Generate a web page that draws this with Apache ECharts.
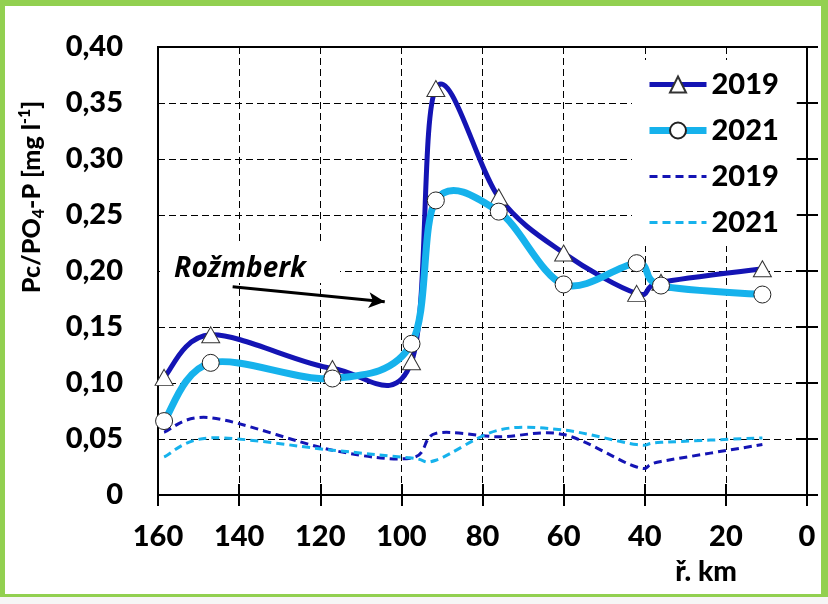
<!DOCTYPE html>
<html>
<head>
<meta charset="utf-8">
<script src="https://cdn.jsdelivr.net/npm/echarts@6/dist/echarts.min.js"></script>
<style>
html,body{margin:0;padding:0;background:#fff;}
#wrap{position:relative;width:828px;height:604px;background:#92d050;overflow:hidden;}
#inner{position:absolute;left:5px;top:6px;width:816px;height:588px;background:#fff;}
#foot{position:absolute;left:0;top:597px;width:828px;height:7px;background:#f6f6f6;}
#chart{position:absolute;left:0;top:0;width:828px;height:604px;}
</style>
</head>
<body>
<div id="wrap"><div id="inner"></div><div id="foot"></div><div id="chart"></div></div>
<script>
// river km (x) and values
const km      = [158.5, 147, 117, 97.5, 91.5, 76, 60, 42, 36, 11];
const pc2019  = [0.105, 0.143, 0.113, 0.119, 0.363, 0.266, 0.216, 0.180, 0.190, 0.202];
const pc2021  = [0.066, 0.118, 0.104, 0.135, 0.263, 0.253, 0.188, 0.207, 0.187, 0.179];
const po2019  = [0.056, 0.069, 0.040, 0.033, 0.055, 0.052, 0.054, 0.025, 0.030, 0.045];
const po2021  = [0.034, 0.051, 0.040, 0.033, 0.031, 0.058, 0.058, 0.045, 0.047, 0.051];
const legendNames = ['2019', '2021', '2019 ', '2021 '];
// annotation arrow (km, value)
const arrowFrom = [141.6, 0.186];
const arrowTo   = [104.1, 0.1726];
const annotationText = 'Rožmberk';

const FONT = 'Lato';
const WEIGHT = 900;
const DARK = '#1414b4';
const LIGHT = '#16b2ec';

function pairs(xs, ys){ return xs.map((x,i)=>[x, ys[i]]); }

// Excel-like smoothed curve (Catmull-Rom -> cubic Bezier) through the data, mapped by the axes
function curve(values, color, width, dash){
  return function(params, api){
    if (params.dataIndex !== 0) return null;
    const p = km.map((x,i)=>api.coord([x, values[i]]));
    const n = p.length;
    let d = 'M' + p[0][0] + ',' + p[0][1];
    for (let i = 0; i < n - 1; i++){
      const p0 = p[i-1] || p[i], p1 = p[i], p2 = p[i+1], p3 = p[i+2] || p[i+1];
      const c1x = p1[0] + (p2[0]-p0[0])/6, c1y = p1[1] + (p2[1]-p0[1])/6;
      const c2x = p2[0] - (p3[0]-p1[0])/6, c2y = p2[1] - (p3[1]-p1[1])/6;
      d += ' C' + c1x + ',' + c1y + ' ' + c2x + ',' + c2y + ' ' + p2[0] + ',' + p2[1];
    }
    return {type: 'path', shape: {pathData: d},
      style: {stroke: color, lineWidth: width, fill: null, lineDash: dash, lineCap: dash ? 'butt' : 'round', lineJoin: 'round'}};
  };
}
function curveSeries(values, color, width, dash, z){
  return {type: 'custom', name: 'curve' + z + color, z: z, silent: true, clip: false,
    data: pairs(km, values), renderItem: curve(values, color, width, dash)};
}

const chart = echarts.init(document.getElementById('chart'), null, {renderer:'canvas'});

const axisLabelStyle = {fontFamily: FONT, fontWeight: WEIGHT, fontSize: 29, color: '#000'};

const option = {
  backgroundColor: 'transparent',
  animation: false,
  grid: {left: 158, right: 21, top: 47, bottom: 109, show: true, borderColor: '#000', borderWidth: 2, backgroundColor: 'transparent', outerBoundsMode: 'none'},
  legend: {
    data: [
      {name: legendNames[0], lineStyle: {width: 5, opacity: 1, color: DARK}},
      {name: legendNames[1], lineStyle: {width: 7, opacity: 1, color: LIGHT}},
      {name: legendNames[2], lineStyle: {width: 3, opacity: 1, color: DARK, type: [8, 5]}, itemStyle: {opacity: 0}},
      {name: legendNames[3], lineStyle: {width: 3, opacity: 1, color: LIGHT, type: [8, 5]}, itemStyle: {opacity: 0}}
    ],
    left: 632, top: 60,
    orient: 'vertical',
    backgroundColor: '#fff',
    padding: [10, 18, 9, 14],
    itemWidth: 57, itemHeight: 20, itemGap: 17,
    textStyle: {fontFamily: FONT, fontWeight: WEIGHT, fontSize: 29, color: '#000'},
    formatter: n => n.trim()
  },
  xAxis: [{
    type: 'value', inverse: true, min: 0, max: 160, interval: 20,
    axisLine: {show: true, lineStyle: {color: '#000', width: 2}},
    axisTick: {show: true, length: 11, lineStyle: {color: '#000', width: 2}},
    axisLabel: Object.assign({margin: 27}, axisLabelStyle),
    splitLine: {show: true, lineStyle: {color: '#000', width: 1, type: [7, 4]}}
  }, {
    type: 'value', inverse: true, min: 0, max: 160, interval: 20, position: 'bottom',
    axisLine: {show: false},
    axisTick: {show: true, inside: true, length: 11, lineStyle: {color: '#000', width: 2}},
    axisLabel: {show: false}, splitLine: {show: false}
  }],
  yAxis: [{
    type: 'value', min: 0, max: 0.4, interval: 0.05,
    axisLine: {show: true, lineStyle: {color: '#000', width: 2}},
    axisTick: {show: true, length: 11, lineStyle: {color: '#000', width: 2}},
    axisLabel: Object.assign({margin: 35, formatter: v => v === 0 ? '0' : v.toFixed(2).replace('.', ',')}, axisLabelStyle),
    splitLine: {show: true, lineStyle: {color: '#000', width: 1, type: [7, 4]}}
  }, {
    type: 'value', min: 0, max: 0.4, interval: 0.05, position: 'left',
    axisLine: {show: false},
    axisTick: {show: true, inside: true, length: 11, lineStyle: {color: '#000', width: 2}},
    axisLabel: {show: false}, splitLine: {show: false}
  }],
  series: [
    curveSeries(po2019, DARK, 3, [8, 5], 2),
    curveSeries(po2021, LIGHT, 3, [8, 5], 2),
    curveSeries(pc2019, DARK, 5, null, 3),
    curveSeries(pc2021, LIGHT, 7, null, 5),
    {
      name: legendNames[2], type: 'line', z: 2,
      data: pairs(km, po2019), showSymbol: false, symbol: 'none',
      lineStyle: {color: DARK, width: 3, type: [8, 5], opacity: 0}, itemStyle: {color: DARK}
    },
    {
      name: legendNames[3], type: 'line', z: 2,
      data: pairs(km, po2021), showSymbol: false, symbol: 'none',
      lineStyle: {color: LIGHT, width: 3, type: [8, 5], opacity: 0}, itemStyle: {color: LIGHT}
    },
    {
      name: legendNames[0], type: 'line', z: 4,
      data: pairs(km, pc2019), symbol: 'triangle', symbolSize: [18, 16],
      lineStyle: {color: DARK, width: 5, opacity: 0},
      itemStyle: {color: '#fff', borderColor: '#333', borderWidth: 1},
      markLine: {
        silent: true, symbol: ['none', 'arrow'], symbolSize: [12, 16],
        lineStyle: {color: '#000', width: 3, type: 'solid', opacity: 1},
        label: {show: false},
        data: [[{coord: arrowFrom}, {coord: arrowTo}]]
      }
    },
    {
      name: legendNames[1], type: 'line', z: 6,
      data: pairs(km, pc2021), symbol: 'circle', symbolSize: 17,
      lineStyle: {color: LIGHT, width: 7, opacity: 0},
      itemStyle: {color: '#fff', borderColor: '#222', borderWidth: 1}
    }
  ],
  graphic: [
    {type: 'rect', z: 1, shape: {x: 160, y: 243, width: 180, height: 40}, style: {fill: '#fff'}},
    {type: 'text', z: 10, x: 240, y: 269, style: {text: annotationText, fontFamily: 'Noto Sans', fontWeight: 'bold', fontStyle: 'italic', fontSize: 28, fill: '#000', align: 'center', verticalAlign: 'middle'}},
    {type: 'text', z: 10, x: 706, y: 572, style: {text: 'ř. km', fontFamily: FONT, fontWeight: WEIGHT, fontSize: 28, fill: '#000', align: 'center', verticalAlign: 'middle'}},
    {type: 'text', z: 10, x: 32, y: 197, rotation: Math.PI / 2,
      style: {
        text: '{a|Pc/PO}{s|4}{a|-P [mg l}{p|-1}{a|]}',
        align: 'center', verticalAlign: 'middle', fill: '#000',
        rich: {
          a: {fontFamily: FONT, fontWeight: WEIGHT, fontSize: 25, lineHeight: 30},
          s: {fontFamily: FONT, fontWeight: WEIGHT, fontSize: 16, lineHeight: 30, verticalAlign: 'bottom'},
          p: {fontFamily: FONT, fontWeight: WEIGHT, fontSize: 16, lineHeight: 30, verticalAlign: 'top'}
        }
      }
    }
  ]
};
chart.setOption(option);
</script>
</body>
</html>
